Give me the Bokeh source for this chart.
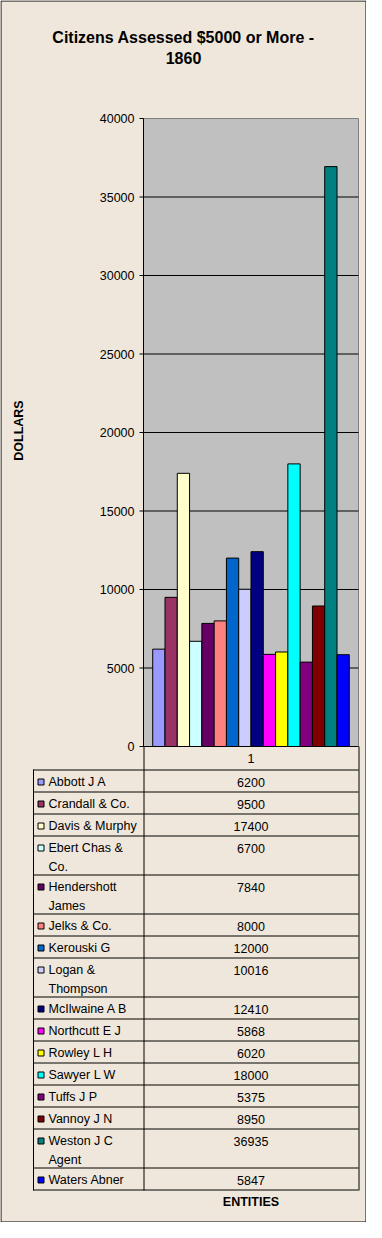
import math
from bokeh.plotting import figure
from bokeh.models import Range1d, ColumnDataSource
from bokeh.core.properties import value
from bokeh.embed import file_html
from bokeh.resources import INLINE

# ---------------- data ----------------
title_lines = ["Citizens Assessed $5000 or More -", "1860"]
y_label = "DOLLARS"
x_label = "ENTITIES"
category = "1"
entities = ["Abbott J A", "Crandall & Co.", "Davis & Murphy", "Ebert Chas &\nCo.",
            "Hendershott\nJames", "Jelks & Co.", "Kerouski G", "Logan &\nThompson",
            "McIlwaine A B", "Northcutt E J", "Rowley L H", "Sawyer L W",
            "Tuffs J P", "Vannoy J N", "Weston J C\nAgent", "Waters Abner"]
amounts = [6200, 9500, 17400, 6700, 7840, 8000, 12000, 10016,
           12410, 5868, 6020, 18000, 5375, 8950, 36935, 5847]
colors = ["#9999FF", "#993366", "#FFFFCC", "#CCFFFF", "#660066", "#FF8080",
          "#0066CC", "#CCCCFF", "#000080", "#FF00FF", "#FFFF00", "#00FFFF",
          "#800080", "#800000", "#008080", "#0000FF"]
y_ticks = [0, 5000, 10000, 15000, 20000, 25000, 30000, 35000, 40000]

# ---------------- layout / style ----------------
W, H = 366, 1222
PL, PR, PT, PB = 143, 358, 118, 746      # plot area in canvas px
GAP = 1.5                                 # Excel gap width 150%
BG = "#EFE7DB"
PLOT_BG = "#C0C0C0"
FONT = "Liberation Sans"
FS = "12.5px"
Y_MAX = y_ticks[-1]

n = len(amounts)
u = (PR - PL) / (n + GAP)
k = (PB - PT) / Y_MAX
xr = Range1d(-GAP / 2 - PL / u, n + GAP / 2 + (W - PR) / u)
yr = Range1d(-(H - PB) / k, Y_MAX + PT / k)

p = figure(width=W, height=H, x_range=xr, y_range=yr, title=None,
           x_axis_location=None, y_axis_location=None,
           toolbar_location=None, output_backend="svg",
           min_border=0, min_border_left=0, min_border_right=0,
           min_border_top=0, min_border_bottom=0,
           background_fill_color=BG, border_fill_color=BG,
           outline_line_color=None)
p.extra_x_ranges = {"px": Range1d(0, W)}
p.extra_y_ranges = {"py": Range1d(H, 0)}
p.grid.visible = False

XL, XRt = -GAP / 2, n + GAP / 2

# plot area
p.quad(left=[XL], right=[XRt], bottom=[0], top=[Y_MAX],
       fill_color=PLOT_BG, line_color="#808080", line_width=1)
# gridlines
grid_vals = y_ticks[1:-1]
p.segment(x0=[XL] * len(grid_vals), x1=[XRt] * len(grid_vals),
          y0=grid_vals, y1=grid_vals, line_color="black", line_width=1)

# bars
src = ColumnDataSource(dict(x=[i + 0.5 for i in range(n)], top=amounts,
                            color=colors, name=entities))
p.vbar(x="x", width=1, top="top", bottom=0, source=src,
       fill_color="color", line_color="black", line_width=1)

# axis lines
p.segment(x0=[XL, XL], y0=[0, 0], x1=[XL, XRt], y1=[Y_MAX, 0],
          line_color="black", line_width=1)
# tick marks + labels (value axis)
p.segment(x0=[PL - 4] * len(y_ticks), x1=[PL] * len(y_ticks),
          y0=y_ticks, y1=y_ticks, x_range_name="px",
          line_color="black", line_width=1)
p.text(x=[PL - 9] * len(y_ticks), y=y_ticks, text=[str(t) for t in y_ticks],
       x_range_name="px", text_align="right", text_baseline="middle",
       text_font=value(FONT), text_font_size=FS, text_color="black")

# title
p.text(x=[W / 2, W / 2], y=[37, 57.5], text=title_lines,
       x_range_name="px", y_range_name="py", text_align="center",
       text_baseline="middle", text_font=value(FONT), text_font_size="16px",
       text_font_style="bold", text_color="black")
# y label
p.text(x=[18.5], y=[430], text=[y_label], angle=math.pi / 2,
       x_range_name="px", y_range_name="py", text_align="center",
       text_baseline="middle", text_font=value(FONT), text_font_size=FS,
       text_font_style="bold", text_color="black")

# ---------------- data table ----------------
TL = 32.5
HEAD_B = PB + 23
ROW1, ROW2, LINE_GAP = 22, 39, 18.5
xc = (PL + PR) / 2

tops = []
t = HEAD_B
for name in entities:
    tops.append(t)
    t += ROW1 if name.count("\n") == 0 else ROW2
TB = t

# table lines
hy = [HEAD_B] + tops[1:] + [TB]
p.segment(x0=[TL] * len(hy), x1=[PR] * len(hy), y0=[v + 0.5 for v in hy],
          y1=[v + 0.5 for v in hy], x_range_name="px", y_range_name="py",
          line_color="black", line_width=1)
p.segment(x0=[TL + 0.5, PL + 0.5, PR + 0.5], x1=[TL + 0.5, PL + 0.5, PR + 0.5],
          y0=[HEAD_B, PB, PB], y1=[TB + 1, TB + 1, TB + 1],
          x_range_name="px", y_range_name="py", line_color="black", line_width=1)

# header category
p.text(x=[xc], y=[PB + 11.5], text=[category], x_range_name="px",
       y_range_name="py", text_align="center", text_baseline="middle",
       text_font=value(FONT), text_font_size=FS, text_color="black")

lx, ly, lt = [], [], []
for name, top in zip(entities, tops):
    for j, line in enumerate(name.split("\n")):
        lx.append(48)
        ly.append(top + 12.5 + j * LINE_GAP)
        lt.append(line)
p.text(x=lx, y=ly, text=lt, x_range_name="px", y_range_name="py",
       text_align="left", text_baseline="middle", text_font=value(FONT),
       text_font_size=FS, text_color="black")
# legend keys
p.rect(x=[40.5] * n, y=[tp + 12.5 for tp in tops], width=6, height=6,
       fill_color=colors, line_color="black", line_width=1,
       x_range_name="px", y_range_name="py")
# values
p.text(x=[xc] * n, y=[tp + 12.5 for tp in tops], text=[str(a) for a in amounts],
       x_range_name="px", y_range_name="py", text_align="center",
       text_baseline="middle", text_font=value(FONT), text_font_size=FS,
       text_color="black")

# category axis title
p.text(x=[xc], y=[TB + 12], text=[x_label], x_range_name="px", y_range_name="py",
       text_align="center", text_baseline="middle", text_font=value(FONT),
       text_font_size=FS, text_font_style="bold", text_color="black")

# chart border
p.quad(left=[0.5], right=[W - 0.5], top=[0.5], bottom=[H - 0.5],
       x_range_name="px", y_range_name="py", fill_color=None,
       line_color="black", line_width=1)

open("out.html", "w").write(file_html(p, INLINE))
